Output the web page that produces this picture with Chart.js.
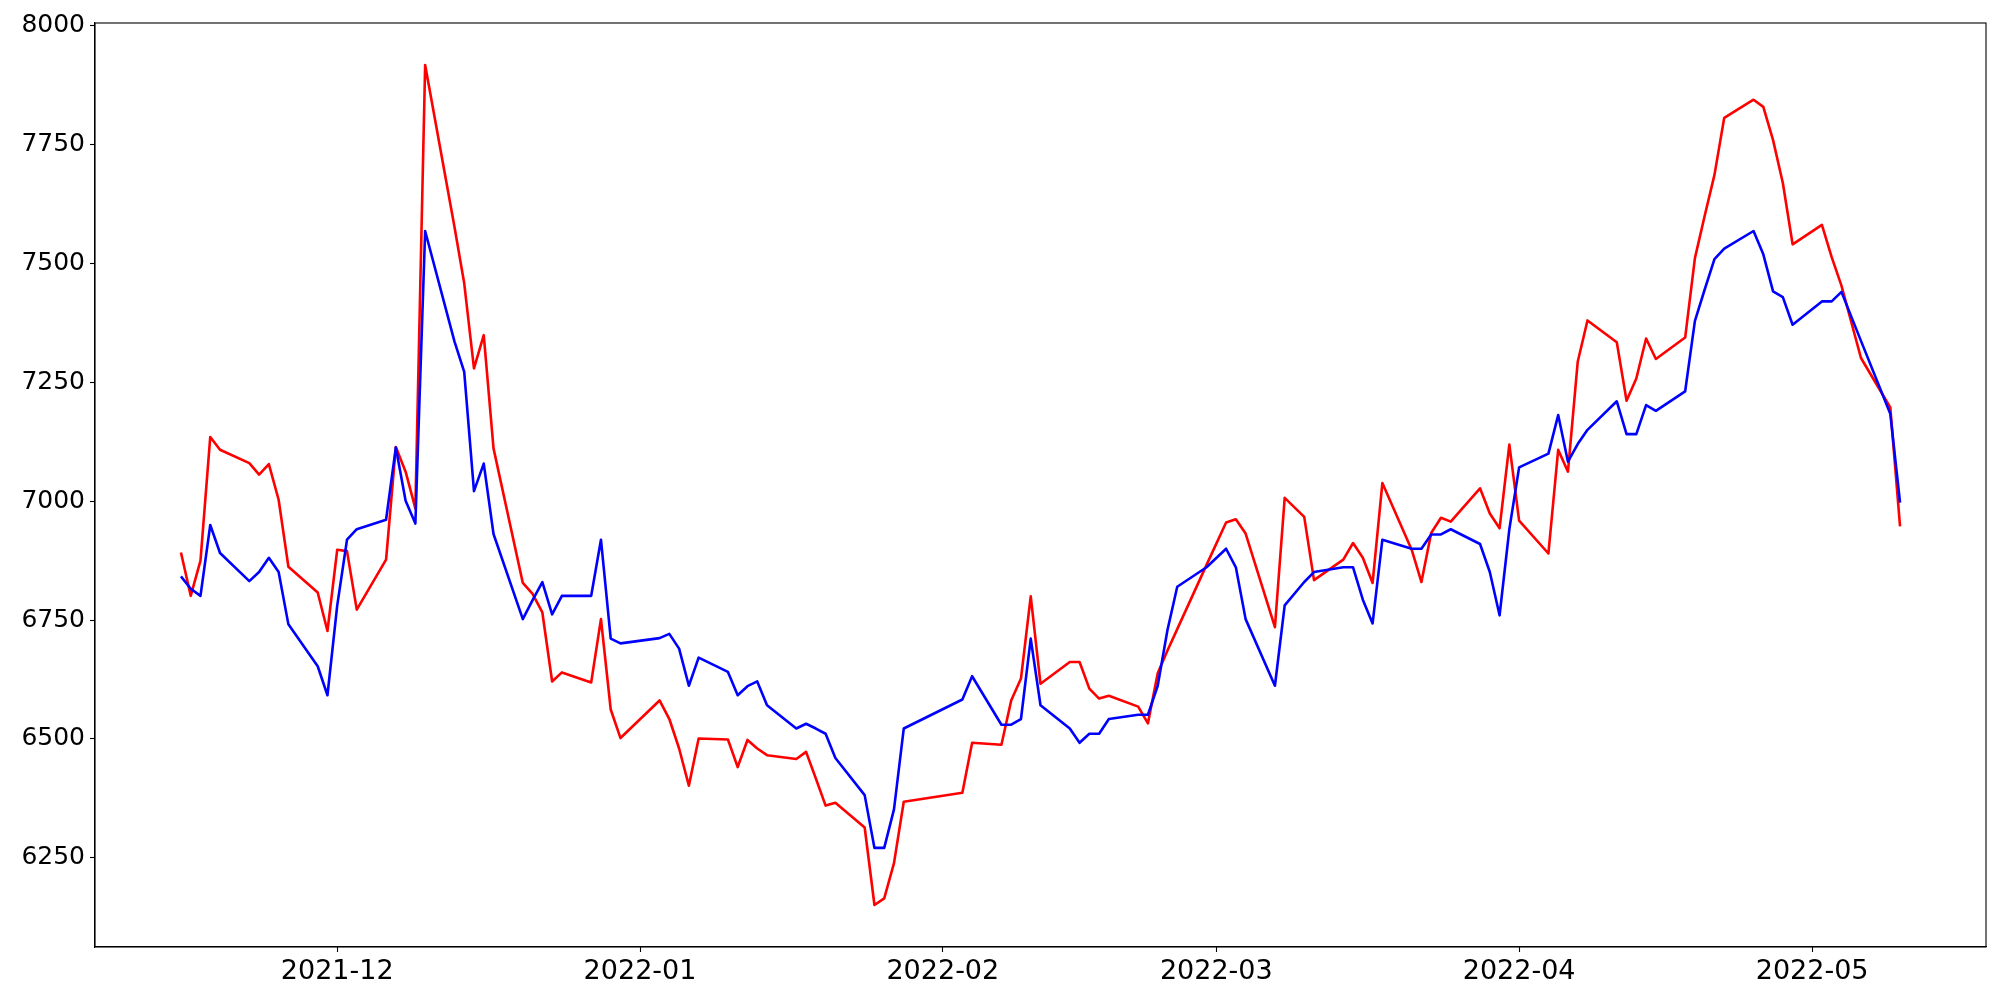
<!DOCTYPE html>
<html>
<head>
<meta charset="utf-8">
<script src="https://cdn.jsdelivr.net/npm/chart.js@4.4.1/dist/chart.umd.min.js"></script>
<style>
  html, body { margin: 0; padding: 0; background: #fff; }
  #wrap { width: 2000px; height: 1000px; }
</style>
</head>
<body>
<div id="wrap"><canvas id="chart" width="2000" height="1000"></canvas></div>
<script>
const dates = [
  "2021-11-15", "2021-11-16", "2021-11-17", "2021-11-18", "2021-11-19",
  "2021-11-22", "2021-11-23", "2021-11-24", "2021-11-25", "2021-11-26",
  "2021-11-29", "2021-11-30", "2021-12-01", "2021-12-02", "2021-12-03",
  "2021-12-06", "2021-12-07", "2021-12-08", "2021-12-09", "2021-12-10",
  "2021-12-13", "2021-12-14", "2021-12-15", "2021-12-16", "2021-12-17",
  "2021-12-20", "2021-12-21", "2021-12-22", "2021-12-23", "2021-12-24",
  "2021-12-27", "2021-12-28", "2021-12-29", "2021-12-30",
  "2022-01-03", "2022-01-04", "2022-01-05", "2022-01-06", "2022-01-07",
  "2022-01-10", "2022-01-11", "2022-01-12", "2022-01-13", "2022-01-14",
  "2022-01-17", "2022-01-18", "2022-01-19", "2022-01-20", "2022-01-21",
  "2022-01-24", "2022-01-25", "2022-01-26", "2022-01-27", "2022-01-28",
  "2022-02-03", "2022-02-04",
  "2022-02-07", "2022-02-08", "2022-02-09", "2022-02-10", "2022-02-11",
  "2022-02-14", "2022-02-15", "2022-02-16", "2022-02-17", "2022-02-18",
  "2022-02-21", "2022-02-22", "2022-02-23", "2022-02-24", "2022-02-25",
  "2022-02-28", "2022-03-02", "2022-03-03", "2022-03-04",
  "2022-03-07", "2022-03-08", "2022-03-10", "2022-03-11",
  "2022-03-14", "2022-03-15", "2022-03-16", "2022-03-17", "2022-03-18",
  "2022-03-21", "2022-03-22", "2022-03-23", "2022-03-24", "2022-03-25",
  "2022-03-28", "2022-03-29", "2022-03-30", "2022-03-31", "2022-04-01",
  "2022-04-04", "2022-04-05", "2022-04-06", "2022-04-07", "2022-04-08",
  "2022-04-11", "2022-04-12", "2022-04-13", "2022-04-14", "2022-04-15",
  "2022-04-18", "2022-04-19", "2022-04-20", "2022-04-21", "2022-04-22",
  "2022-04-25", "2022-04-26", "2022-04-27", "2022-04-28", "2022-04-29",
  "2022-05-02", "2022-05-03", "2022-05-04", "2022-05-06",
  "2022-05-09", "2022-05-10",
];

const redValues = [
  6892, 6801, 6875, 7135, 7108,
  7080, 7056, 7078, 7003, 6862,
  6808, 6727, 6898, 6895, 6772,
  6877, 7114, 7062, 6985, 7917,
  7577, 7458, 7279, 7349, 7111,
  6828, 6805, 6766, 6621, 6640,
  6619, 6752, 6562, 6502,
  6581, 6542, 6480, 6402, 6501,
  6499, 6441, 6498, 6480, 6466,
  6458, 6473, 6417, 6360, 6366,
  6314, 6151, 6165, 6239, 6368,
  6387, 6492,
  6488, 6581, 6627, 6800, 6616,
  6662, 6662, 6606, 6585, 6591,
  6568, 6533, 6638, 6686, 6731,
  6866, 6955, 6962, 6932,
  6735, 7007, 6967, 6834,
  6877, 6912, 6881, 6828, 7038,
  6898, 6830, 6933, 6965, 6957,
  7027, 6974, 6943, 7119, 6959,
  6890, 7108, 7062, 7293, 7380,
  7334, 7211, 7258, 7342, 7299,
  7344, 7511, 7600, 7686, 7806,
  7844, 7829, 7759, 7669, 7540,
  7581, 7513, 7453, 7301,
  7197, 6947,
];

const blueValues = [
  6842, 6816, 6801, 6950, 6891,
  6832, 6851, 6881, 6851, 6741,
  6653, 6592, 6781, 6919, 6941,
  6961, 7113, 7001, 6953, 7568,
  7336, 7272, 7021, 7079, 6931,
  6752, 6792, 6830, 6762, 6801,
  6801, 6919, 6711, 6701,
  6712, 6721, 6690, 6612, 6671,
  6641, 6592, 6611, 6621, 6571,
  6522, 6532, 6522, 6511, 6460,
  6382, 6271, 6271, 6352, 6522,
  6583, 6632,
  6530, 6530, 6542, 6711, 6571,
  6522, 6492, 6511, 6511, 6542,
  6551, 6551, 6612, 6729, 6820,
  6861, 6900, 6861, 6752,
  6612, 6781, 6830, 6851,
  6861, 6861, 6793, 6743, 6919,
  6900, 6900, 6930, 6930, 6941,
  6910, 6851, 6760, 6941, 7071,
  7100, 7181, 7083, 7120, 7150,
  7210, 7141, 7141, 7202, 7190,
  7231, 7379, 7445, 7509, 7531,
  7568, 7519, 7441, 7429, 7371,
  7420, 7420, 7440, 7337,
  7184, 6997,
];

const xTickDates = ["2021-12-01", "2022-01-01", "2022-02-01", "2022-03-01", "2022-04-01", "2022-05-01"];
const xTickLabels = ["2021-12", "2022-01", "2022-02", "2022-03", "2022-04", "2022-05"];
const yTicks = [6250, 6500, 6750, 7000, 7250, 7500, 7750, 8000];

function dayNumber(text) {
  const [y, m, d] = text.split("-").map(Number);
  return Date.UTC(y, m - 1, d) / 86400000;
}

// matplotlib style 5% margin around the data
function withMargin(values) {
  const lo = Math.min(...values);
  const hi = Math.max(...values);
  const pad = (hi - lo) * 0.05;
  return [lo - pad, hi + pad];
}

const xs = dates.map(dayNumber);
const [xMin, xMax] = withMargin(xs);
const [yMin, yMax] = withMargin(redValues.concat(blueValues));
const xTickValues = xTickDates.map(dayNumber);

const family = "'DejaVu Sans', sans-serif";

const frame = {
  id: "frame",
  afterDraw(chart) {
    const { ctx, chartArea: a } = chart;
    ctx.save();
    ctx.strokeStyle = "#000";
    ctx.lineWidth = 1.1;
    ctx.strokeRect(a.left, a.top, a.right - a.left, a.bottom - a.top);
    ctx.restore();
  },
};

new Chart(document.getElementById("chart"), {
  type: "line",
  data: {
    datasets: [
      {
        label: "red",
        data: xs.map((x, i) => ({ x, y: redValues[i] })),
        borderColor: "#ff0000",
        borderWidth: 2.6,
        order: 2,
      },
      {
        label: "blue",
        data: xs.map((x, i) => ({ x, y: blueValues[i] })),
        borderColor: "#0000ff",
        borderWidth: 2.6,
        order: 1,
      },
    ],
  },
  options: {
    responsive: false,
    animation: false,
    events: [],
    elements: {
      point: { radius: 0 },
      line: { tension: 0, borderJoinStyle: "round" },
    },
    layout: { padding: { left: 0, top: 23, right: 14, bottom: 0 } },
    plugins: { legend: { display: false }, tooltip: { enabled: false } },
    scales: {
      x: {
        type: "linear",
        min: xMin,
        max: xMax,
        afterBuildTicks: (scale) => {
          scale.ticks = xTickValues.map((value) => ({ value }));
        },
        afterFit: (scale) => {
          scale.height = 53;
        },
        ticks: {
          font: { family, size: 27 },
          color: "#000",
          padding: 4,
          maxRotation: 0,
          autoSkip: false,
          callback: (value, index) => xTickLabels[index],
        },
        grid: {
          display: true,
          drawOnChartArea: false,
          drawTicks: true,
          tickLength: 5,
          tickColor: "#000",
          tickWidth: 1.1,
        },
        border: { display: true, color: "#000", width: 1.1 },
      },
      y: {
        min: yMin,
        max: yMax,
        afterBuildTicks: (scale) => {
          scale.ticks = yTicks.map((value) => ({ value }));
        },
        afterFit: (scale) => {
          scale.width = 95;
        },
        ticks: {
          font: { family, size: 25 },
          color: "#000",
          padding: 5,
          callback: (value) => String(value),
        },
        grid: {
          display: true,
          drawOnChartArea: false,
          drawTicks: true,
          tickLength: 5,
          tickColor: "#000",
          tickWidth: 1.1,
        },
        border: { display: true, color: "#000", width: 1.1 },
      },
    },
  },
  plugins: [frame],
});
</script>
</body>
</html>
